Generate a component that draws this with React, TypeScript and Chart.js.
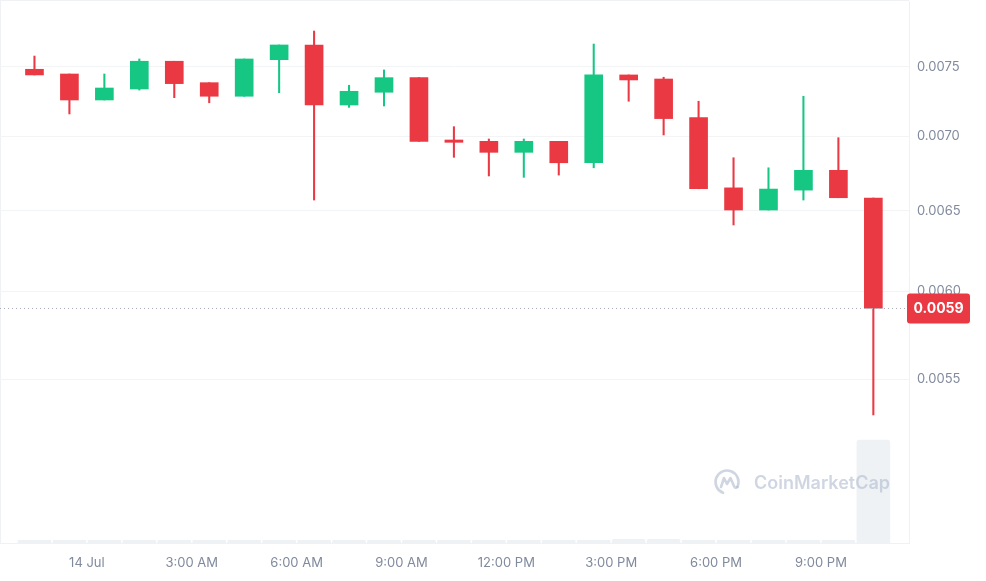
import React, { useEffect, useRef } from "react";
import { Chart, registerables } from "chart.js";

Chart.register(...registerables);

// Hours relative to 14 Jul 00:00 (candle centres)
const candleHours = [-1.5, -0.5, 0.5, 1.5, 2.5, 3.5, 4.5, 5.5, 6.5, 7.5, 8.5, 9.5, 10.5, 11.5, 12.5, 13.5, 14.5, 15.5, 16.5, 17.5, 18.5, 19.5, 20.5, 21.5, 22.5];

const opens = [0.007483, 0.007448, 0.007258, 0.007338, 0.007543, 0.007384, 0.007285, 0.007555, 0.007666, 0.007222, 0.007314, 0.007421, 0.006975, 0.006966, 0.00689, 0.006966, 0.006819, 0.007441, 0.007411, 0.007132, 0.006651, 0.006506, 0.006636, 0.006768, 0.006584];
const highs = [0.007582, 0.007448, 0.007448, 0.00756, 0.007543, 0.007384, 0.00756, 0.007666, 0.007773, 0.007365, 0.007478, 0.007421, 0.007068, 0.006982, 0.006982, 0.006966, 0.007673, 0.007441, 0.007424, 0.007249, 0.006853, 0.006785, 0.007285, 0.006991, 0.006584];
const lows = [0.007441, 0.007158, 0.007258, 0.00733, 0.007275, 0.007238, 0.007285, 0.007311, 0.006571, 0.007205, 0.007215, 0.006966, 0.006856, 0.00673, 0.006721, 0.006736, 0.006785, 0.007249, 0.00701, 0.006645, 0.00641, 0.006506, 0.006571, 0.006586, 0.005307];
const closes = [0.007441, 0.007258, 0.007345, 0.007543, 0.007377, 0.007285, 0.00756, 0.007666, 0.007222, 0.007321, 0.007421, 0.006966, 0.006959, 0.00689, 0.006966, 0.006819, 0.007441, 0.007404, 0.007125, 0.006645, 0.006506, 0.006643, 0.006768, 0.006586, 0.005901];
const volumes = [5, 5, 5, 5, 5, 5, 5, 5, 5, 5, 5, 5, 5, 5, 5, 5, 5, 7, 7, 5, 5, 5, 5, 5, 190];

const xTickHours = [0, 3, 6, 9, 12, 15, 18, 21];
const xTickLabels = ["14 Jul", "3:00 AM", "6:00 AM", "9:00 AM", "12:00 PM", "3:00 PM", "6:00 PM", "9:00 PM"];
const priceTicks = [0.0055, 0.006, 0.0065, 0.007, 0.0075];

const RED = "#ea3943";
const GREEN = "#16c784";
const LABEL = "#808a9d";
const LINE = "#eff1f4";

const extrasPlugin = {
  id: "extras",
  beforeDraw(chart: any) {
    const { ctx, chartArea } = chart;
    ctx.save();
    ctx.strokeStyle = LINE;
    ctx.lineWidth = 1;
    ctx.beginPath();
    ctx.moveTo(chartArea.left + 0.5, chartArea.top);
    ctx.lineTo(chartArea.left + 0.5, chartArea.bottom);
    ctx.moveTo(chartArea.left, chartArea.top - 0.5);
    ctx.lineTo(chartArea.right, chartArea.top - 0.5);
    ctx.stroke();
    ctx.restore();
  },
  afterDatasetsDraw(chart: any) {
    const { ctx } = chart;
    // watermark
    ctx.save();
    const col = "rgba(175,186,206,0.6)";
    const cx = 727, cy = 482, r = 11.5;
    ctx.strokeStyle = col;
    ctx.lineWidth = 2.6;
    ctx.lineCap = "round";
    ctx.lineJoin = "round";
    ctx.beginPath();
    ctx.arc(cx, cy, r, 0.5 * Math.PI + 0.35, 2 * Math.PI + 0.45);
    ctx.stroke();
    ctx.beginPath();
    ctx.moveTo(cx - 6, cy + 5);
    ctx.lineTo(cx - 3, cy - 4);
    ctx.lineTo(cx, cy + 2);
    ctx.lineTo(cx + 3.5, cy - 4);
    ctx.lineTo(cx + 6.5, cy + 3);
    ctx.quadraticCurveTo(cx + 8, cy + 7, cx + r * Math.cos(0.45), cy + r * Math.sin(0.45));
    ctx.stroke();
    ctx.fillStyle = col;
    ctx.font = "600 18px Inter";
    ctx.textAlign = "left";
    ctx.textBaseline = "middle";
    ctx.fillText("CoinMarketCap", 754, 484);
    ctx.restore();
  },
  afterDraw(chart: any) {
    const { ctx, chartArea, scales } = chart;
    const last = closes[closes.length - 1];
    const y = Math.round(scales.y.getPixelForValue(last)) + 0.5;
    ctx.save();
    ctx.strokeStyle = "#a7adb8";
    ctx.lineWidth = 1;
    ctx.setLineDash([1, 3]);
    ctx.beginPath();
    ctx.moveTo(chartArea.left, y);
    ctx.lineTo(chartArea.right, y);
    ctx.stroke();
    ctx.setLineDash([]);
    const bx = 907, bw = 63, bh = 30;
    ctx.fillStyle = RED;
    ctx.beginPath();
    (ctx as any).roundRect(bx, y - bh / 2, bw, bh, 3);
    ctx.fill();
    ctx.fillStyle = "#ffffff";
    ctx.font = "bold 14px Inter";
    ctx.textAlign = "center";
    ctx.textBaseline = "middle";
    ctx.fillText(last.toFixed(4), bx + bw / 2, y + 0.5);
    ctx.restore();
  },
};

export default function App() {
  const ref = useRef<HTMLCanvasElement | null>(null);

  useEffect(() => {
    if (!ref.current) return;
    const up = closes.map((c, i) => c >= opens[i]);
    const colors = up.map((u) => (u ? GREEN : RED));

    const chart = new Chart(ref.current, {
      type: "bar",
      data: {
        datasets: [
          {
            label: "Volume",
            data: candleHours.map((h, i) => ({ x: h, y: volumes[i] })) as any,
            yAxisID: "yv",
            backgroundColor: "#eff2f5",
            barThickness: 33,
            borderRadius: 3,
            borderSkipped: "start",
            order: 3,
          } as any,
          {
            label: "Wick",
            data: candleHours.map((h, i) => ({ x: h, y: [lows[i], highs[i]] })) as any,
            yAxisID: "y",
            backgroundColor: colors,
            barThickness: 1.4,
            order: 2,
          } as any,
          {
            label: "Body",
            data: candleHours.map((h, i) => ({ x: h, y: [opens[i], closes[i]] })) as any,
            yAxisID: "y",
            backgroundColor: colors,
            barThickness: 18,
            order: 1,
          } as any,
        ],
      },
      options: {
        animation: false,
        responsive: false,
        devicePixelRatio: 1,
        layout: { padding: { top: 1, left: 0, right: 0, bottom: 0 } },
        datasets: { bar: { grouped: false } as any },
        plugins: {
          legend: { display: false },
          tooltip: { enabled: false },
        },
        scales: {
          x: {
            type: "linear",
            min: -2.486,
            max: 23.52,
            offset: false,
            grid: { display: false, drawTicks: false },
            border: { display: true, color: LINE },
            afterBuildTicks: (s: any) => {
              s.ticks = xTickHours.map((v) => ({ value: v }));
            },
            afterFit: (s: any) => {
              s.height = 38;
              s.paddingLeft = 0;
              s.paddingRight = 0;
            },
            ticks: {
              autoSkip: false,
              maxRotation: 0,
              padding: 12,
              color: LABEL,
              font: { family: "Inter", size: 13 },
              callback: (v: any) => {
                const idx = xTickHours.indexOf(Number(v));
                return idx >= 0 ? xTickLabels[idx] : "";
              },
            },
          },
          y: {
            type: "logarithmic",
            position: "right",
            min: 0.0046727,
            max: 0.0080085,
            grid: { color: "#f3f4f6", drawTicks: false },
            border: { display: true, color: LINE },
            afterBuildTicks: (s: any) => {
              s.ticks = priceTicks.map((v) => ({ value: v }));
            },
            afterFit: (s: any) => {
              s.width = 77;
              s.paddingTop = 0;
              s.paddingBottom = 0;
            },
            ticks: {
              autoSkip: false,
              padding: 8,
              color: LABEL,
              font: { family: "Inter", size: 13 },
              callback: (v: any) => Number(v).toFixed(4),
            },
          },
          yv: {
            type: "linear",
            display: false,
            min: 0,
            max: 1000,
          },
        },
      } as any,
      plugins: [extrasPlugin],
    });
    return () => chart.destroy();
  }, []);

  return (
    <div style={{ position: "absolute", left: 0, top: 0, width: 986, height: 581, background: "#fff" }}>
      <canvas ref={ref} width={986} height={581} style={{ display: "block" }} />
    </div>
  );
}
